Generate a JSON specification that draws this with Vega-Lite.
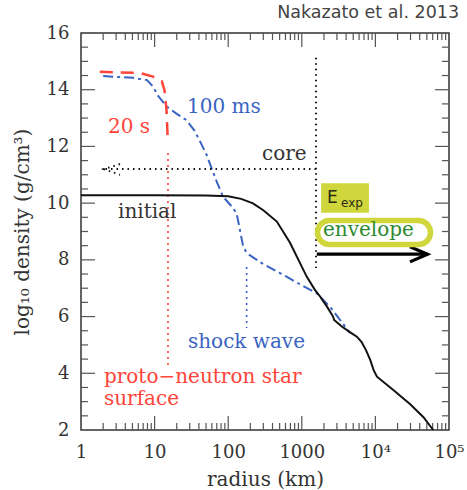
{
  "$schema": "https://vega.github.io/schema/vega-lite/v6.json",
  "width": 368,
  "height": 397,
  "autosize": {"type": "none"},
  "padding": {"left": 81, "top": 33, "right": 18, "bottom": 60},
  "title": {"text": "Nakazato et al. 2013", "anchor": "end", "font": "DejaVu Sans", "fontSize": 17.5, "fontWeight": "normal", "color": "#444", "offset": 3, "dx": -5},
  "config": {
    "view": {"stroke": "#333", "strokeWidth": 1.5},
    "axis": {"grid": false, "domain": false, "ticks": false,
      "labelFont": "DejaVu Serif", "labelFontSize": 18, "labelColor": "#333", "titleFont": "DejaVu Serif", "titleFontSize": 20,
      "titleFontWeight": "normal", "titleColor": "#333", "labelFlush": false, "labelOverlap": false}
  },
  "datasets": {
    "curves": [
      {"series": "initial", "r": 1, "rho": 10.28}, {"series": "initial", "r": 10, "rho": 10.28}, {"series": "initial", "r": 50, "rho": 10.27},
      {"series": "initial", "r": 100, "rho": 10.24}, {"series": "initial", "r": 150, "rho": 10.15}, {"series": "initial", "r": 217, "rho": 9.99},
      {"series": "initial", "r": 300, "rho": 9.75}, {"series": "initial", "r": 458, "rho": 9.35}, {"series": "initial", "r": 692, "rho": 8.6},
      {"series": "initial", "r": 900, "rho": 8.0}, {"series": "initial", "r": 1170, "rho": 7.4}, {"series": "initial", "r": 1500, "rho": 6.95},
      {"series": "initial", "r": 1780, "rho": 6.7}, {"series": "initial", "r": 2200, "rho": 6.35}, {"series": "initial", "r": 2660, "rho": 6.0},
      {"series": "initial", "r": 2750, "rho": 5.88}, {"series": "initial", "r": 3500, "rho": 5.65}, {"series": "initial", "r": 4500, "rho": 5.45},
      {"series": "initial", "r": 5600, "rho": 5.29}, {"series": "initial", "r": 6500, "rho": 5.1}, {"series": "initial", "r": 7500, "rho": 4.8},
      {"series": "initial", "r": 8500, "rho": 4.47}, {"series": "initial", "r": 9500, "rho": 4.1}, {"series": "initial", "r": 10500, "rho": 3.88},
      {"series": "initial", "r": 17500, "rho": 3.41}, {"series": "initial", "r": 30000, "rho": 2.9}, {"series": "initial", "r": 45000, "rho": 2.45},
      {"series": "initial", "r": 61000, "rho": 2.0},
      {"series": "100ms", "r": 2.0, "rho": 14.48}, {"series": "100ms", "r": 5, "rho": 14.42}, {"series": "100ms", "r": 7.9, "rho": 14.34},
      {"series": "100ms", "r": 9.6, "rho": 14.1}, {"series": "100ms", "r": 11, "rho": 13.8}, {"series": "100ms", "r": 14.7, "rho": 13.4},
      {"series": "100ms", "r": 20, "rho": 13.15}, {"series": "100ms", "r": 27, "rho": 12.93}, {"series": "100ms", "r": 35, "rho": 12.55},
      {"series": "100ms", "r": 41, "rho": 12.2}, {"series": "100ms", "r": 50, "rho": 11.75}, {"series": "100ms", "r": 70, "rho": 10.75},
      {"series": "100ms", "r": 85, "rho": 10.23}, {"series": "100ms", "r": 110, "rho": 9.9}, {"series": "100ms", "r": 130, "rho": 9.65},
      {"series": "100ms", "r": 160, "rho": 8.46}, {"series": "100ms", "r": 180, "rho": 8.23}, {"series": "100ms", "r": 300, "rho": 7.85},
      {"series": "100ms", "r": 630, "rho": 7.4}, {"series": "100ms", "r": 1000, "rho": 7.1}, {"series": "100ms", "r": 1600, "rho": 6.82},
      {"series": "100ms", "r": 2500, "rho": 6.3}, {"series": "100ms", "r": 3500, "rho": 5.8}, {"series": "100ms", "r": 4500, "rho": 5.42},
      {"series": "20s", "r": 1.8, "rho": 14.63}, {"series": "20s", "r": 6.3, "rho": 14.59}, {"series": "20s", "r": 9.5, "rho": 14.46},
      {"series": "20s", "r": 12.5, "rho": 14.3}, {"series": "20s", "r": 13.6, "rho": 14.0}, {"series": "20s", "r": 14.5, "rho": 13.3},
      {"series": "20s", "r": 15.0, "rho": 12.4}
    ],
    "segments": [
      {"group": "kdot", "seg": "coreh", "i": 0, "r": 1560, "rho": 11.2}, {"group": "kdot", "seg": "coreh", "i": 1, "r": 2.05, "rho": 11.2},
      {"group": "kdot", "seg": "corehead", "i": 0, "r": 3.39, "rho": 11.38}, {"group": "kdot", "seg": "corehead", "i": 1, "r": 2.05, "rho": 11.2},
      {"group": "kdot", "seg": "corehead", "i": 2, "r": 3.39, "rho": 11.0},
      {"group": "kdot", "seg": "corev", "i": 0, "r": 1560, "rho": 15.13}, {"group": "kdot", "seg": "corev", "i": 1, "r": 1560, "rho": 7.71},
      {"group": "karrow", "seg": "env", "i": 0, "r": 1600, "rho": 8.2}, {"group": "karrow", "seg": "env", "i": 1, "r": 51000, "rho": 8.2},
      {"group": "karrow", "seg": "envhead", "i": 0, "r": 29500, "rho": 8.46}, {"group": "karrow", "seg": "envhead", "i": 1, "r": 51000, "rho": 8.2},
      {"group": "karrow", "seg": "envhead", "i": 2, "r": 29500, "rho": 7.93},
      {"group": "rdot", "seg": "pns", "i": 0, "r": 15.2, "rho": 11.77}, {"group": "rdot", "seg": "pns", "i": 1, "r": 15.2, "rho": 4.29},
      {"group": "bdot", "seg": "shock", "i": 0, "r": 178, "rho": 7.75}, {"group": "bdot", "seg": "shock", "i": 1, "r": 178, "rho": 5.6}
    ],
    "xticks": [
      {"kind": "major", "r": 10, "bottom": 2, "top": 16}, {"kind": "major", "r": 100, "bottom": 2, "top": 16}, {"kind": "major", "r": 1000, "bottom": 2, "top": 16}, {"kind": "major", "r": 10000, "bottom": 2, "top": 16},
      {"kind": "minor", "r": 2, "bottom": 2, "top": 16}, {"kind": "minor", "r": 3, "bottom": 2, "top": 16}, {"kind": "minor", "r": 4, "bottom": 2, "top": 16}, {"kind": "minor", "r": 5, "bottom": 2, "top": 16},
      {"kind": "minor", "r": 6, "bottom": 2, "top": 16}, {"kind": "minor", "r": 7, "bottom": 2, "top": 16}, {"kind": "minor", "r": 8, "bottom": 2, "top": 16}, {"kind": "minor", "r": 9, "bottom": 2, "top": 16},
      {"kind": "minor", "r": 20, "bottom": 2, "top": 16}, {"kind": "minor", "r": 30, "bottom": 2, "top": 16}, {"kind": "minor", "r": 40, "bottom": 2, "top": 16}, {"kind": "minor", "r": 50, "bottom": 2, "top": 16},
      {"kind": "minor", "r": 60, "bottom": 2, "top": 16}, {"kind": "minor", "r": 70, "bottom": 2, "top": 16}, {"kind": "minor", "r": 80, "bottom": 2, "top": 16}, {"kind": "minor", "r": 90, "bottom": 2, "top": 16},
      {"kind": "minor", "r": 200, "bottom": 2, "top": 16}, {"kind": "minor", "r": 300, "bottom": 2, "top": 16}, {"kind": "minor", "r": 400, "bottom": 2, "top": 16}, {"kind": "minor", "r": 500, "bottom": 2, "top": 16},
      {"kind": "minor", "r": 600, "bottom": 2, "top": 16}, {"kind": "minor", "r": 700, "bottom": 2, "top": 16}, {"kind": "minor", "r": 800, "bottom": 2, "top": 16}, {"kind": "minor", "r": 900, "bottom": 2, "top": 16},
      {"kind": "minor", "r": 2000, "bottom": 2, "top": 16}, {"kind": "minor", "r": 3000, "bottom": 2, "top": 16}, {"kind": "minor", "r": 4000, "bottom": 2, "top": 16}, {"kind": "minor", "r": 5000, "bottom": 2, "top": 16},
      {"kind": "minor", "r": 6000, "bottom": 2, "top": 16}, {"kind": "minor", "r": 7000, "bottom": 2, "top": 16}, {"kind": "minor", "r": 8000, "bottom": 2, "top": 16}, {"kind": "minor", "r": 9000, "bottom": 2, "top": 16},
      {"kind": "minor", "r": 20000, "bottom": 2, "top": 16}, {"kind": "minor", "r": 30000, "bottom": 2, "top": 16}, {"kind": "minor", "r": 40000, "bottom": 2, "top": 16}, {"kind": "minor", "r": 50000, "bottom": 2, "top": 16},
      {"kind": "minor", "r": 60000, "bottom": 2, "top": 16}, {"kind": "minor", "r": 70000, "bottom": 2, "top": 16}, {"kind": "minor", "r": 80000, "bottom": 2, "top": 16}, {"kind": "minor", "r": 90000, "bottom": 2, "top": 16}
    ],
    "yticks": [
      {"kind": "major", "rho": 4, "left": 1, "right": 100000}, {"kind": "major", "rho": 6, "left": 1, "right": 100000}, {"kind": "major", "rho": 8, "left": 1, "right": 100000},
      {"kind": "major", "rho": 10, "left": 1, "right": 100000}, {"kind": "major", "rho": 12, "left": 1, "right": 100000}, {"kind": "major", "rho": 14, "left": 1, "right": 100000},
      {"kind": "minor", "rho": 2.5, "left": 1, "right": 100000}, {"kind": "minor", "rho": 3, "left": 1, "right": 100000}, {"kind": "minor", "rho": 3.5, "left": 1, "right": 100000},
      {"kind": "minor", "rho": 4.5, "left": 1, "right": 100000}, {"kind": "minor", "rho": 5, "left": 1, "right": 100000}, {"kind": "minor", "rho": 5.5, "left": 1, "right": 100000},
      {"kind": "minor", "rho": 6.5, "left": 1, "right": 100000}, {"kind": "minor", "rho": 7, "left": 1, "right": 100000}, {"kind": "minor", "rho": 7.5, "left": 1, "right": 100000},
      {"kind": "minor", "rho": 8.5, "left": 1, "right": 100000}, {"kind": "minor", "rho": 9, "left": 1, "right": 100000}, {"kind": "minor", "rho": 9.5, "left": 1, "right": 100000},
      {"kind": "minor", "rho": 10.5, "left": 1, "right": 100000}, {"kind": "minor", "rho": 11, "left": 1, "right": 100000}, {"kind": "minor", "rho": 11.5, "left": 1, "right": 100000},
      {"kind": "minor", "rho": 12.5, "left": 1, "right": 100000}, {"kind": "minor", "rho": 13, "left": 1, "right": 100000}, {"kind": "minor", "rho": 13.5, "left": 1, "right": 100000},
      {"kind": "minor", "rho": 14.5, "left": 1, "right": 100000}, {"kind": "minor", "rho": 15, "left": 1, "right": 100000}, {"kind": "minor", "rho": 15.5, "left": 1, "right": 100000}
    ],
    "labels": [
      {"label": "100 ms", "kind": "blue", "r": 27.5, "rho": 13.18},
      {"label": "20 s", "kind": "red", "r": 2.33, "rho": 12.47},
      {"label": "core", "kind": "black", "r": 288, "rho": 11.52},
      {"label": "initial", "kind": "black", "r": 3.18, "rho": 9.47},
      {"label": "shock wave", "kind": "blue", "r": 28.4, "rho": 4.89},
      {"label": "proto−neutron star", "kind": "red", "r": 2.05, "rho": 3.66},
      {"label": "surface", "kind": "red", "r": 2.05, "rho": 2.88},
      {"label": "envelope", "kind": "green", "r": 1940, "rho": 8.84}
    ],
    "boxes": [
      {"box": "eexp", "r": 1830, "r2": 8180, "rho": 10.7, "rho2": 9.66},
      {"box": "envelope", "r": 1634, "r2": 56100, "rho": 9.39, "rho2": 8.54}
    ],
    "eexp": [
      {"main": "E", "sub": "exp", "r": 2200, "rho": 10.0, "rsub": 3410, "rhosub": 9.86}
    ]
  },
  "resolve": {"axis": {"x": "independent", "y": "independent"}},
  "layer": [
    {
      "data": {"name": "xticks"},
      "transform": [{"filter": "datum.kind == 'major'"}],
      "mark": {"type": "rule", "color": "#555", "strokeWidth": 1.2, "y2Offset": -14},
      "encoding": {"x": {"field": "r", "type": "quantitative", "scale": {"type": "log", "domain": [1, 100000], "nice": false}, "axis": null},
        "y": {"field": "bottom", "type": "quantitative", "scale": {"domain": [2, 16], "nice": false, "zero": false}, "axis": null}, "y2": {"field": "bottom"}}
    },
    {
      "data": {"name": "xticks"},
      "transform": [{"filter": "datum.kind == 'major'"}],
      "mark": {"type": "rule", "color": "#555", "strokeWidth": 1.2, "y2Offset": 14},
      "encoding": {"x": {"field": "r", "type": "quantitative", "axis": null}, "y": {"field": "top", "type": "quantitative", "axis": null}, "y2": {"field": "top"}}
    },
    {
      "data": {"name": "xticks"},
      "transform": [{"filter": "datum.kind == 'minor'"}],
      "mark": {"type": "rule", "color": "#555", "strokeWidth": 1.2, "y2Offset": -7},
      "encoding": {"x": {"field": "r", "type": "quantitative", "axis": null}, "y": {"field": "bottom", "type": "quantitative", "axis": null}, "y2": {"field": "bottom"}}
    },
    {
      "data": {"name": "xticks"},
      "transform": [{"filter": "datum.kind == 'minor'"}],
      "mark": {"type": "rule", "color": "#555", "strokeWidth": 1.2, "y2Offset": 7},
      "encoding": {"x": {"field": "r", "type": "quantitative", "axis": null}, "y": {"field": "top", "type": "quantitative", "axis": null}, "y2": {"field": "top"}}
    },
    {
      "data": {"name": "yticks"},
      "transform": [{"filter": "datum.kind == 'major'"}],
      "mark": {"type": "rule", "color": "#555", "strokeWidth": 1.2, "x2Offset": 14},
      "encoding": {"y": {"field": "rho", "type": "quantitative", "axis": null}, "x": {"field": "left", "type": "quantitative", "axis": null}, "x2": {"field": "left"}}
    },
    {
      "data": {"name": "yticks"},
      "transform": [{"filter": "datum.kind == 'major'"}],
      "mark": {"type": "rule", "color": "#555", "strokeWidth": 1.2, "x2Offset": -14},
      "encoding": {"y": {"field": "rho", "type": "quantitative", "axis": null}, "x": {"field": "right", "type": "quantitative", "axis": null}, "x2": {"field": "right"}}
    },
    {
      "data": {"name": "yticks"},
      "transform": [{"filter": "datum.kind == 'minor'"}],
      "mark": {"type": "rule", "color": "#555", "strokeWidth": 1.2, "x2Offset": 7},
      "encoding": {"y": {"field": "rho", "type": "quantitative", "axis": null}, "x": {"field": "left", "type": "quantitative", "axis": null}, "x2": {"field": "left"}}
    },
    {
      "data": {"name": "yticks"},
      "transform": [{"filter": "datum.kind == 'minor'"}],
      "mark": {"type": "rule", "color": "#555", "strokeWidth": 1.2, "x2Offset": -7},
      "encoding": {"y": {"field": "rho", "type": "quantitative", "axis": null}, "x": {"field": "right", "type": "quantitative", "axis": null}, "x2": {"field": "right"}}
    },
    {
      "data": {"name": "curves"},
      "transform": [{"filter": "datum.series == '100ms'"}],
      "mark": {"type": "line", "color": "#3a64c2", "strokeWidth": 2, "strokeDash": [10, 4, 3, 4]},
      "encoding": {
        "x": {"field": "r", "type": "quantitative", "axis": null},
        "y": {"field": "rho", "type": "quantitative", "axis": null},
        "order": {"field": "r"}
      }
    },
    {
      "data": {"name": "curves"},
      "transform": [{"filter": "datum.series == '20s'"}],
      "mark": {"type": "line", "color": "#ff4438", "strokeWidth": 2.5, "strokeDash": [13, 8]},
      "encoding": {
        "x": {"field": "r", "type": "quantitative", "axis": null},
        "y": {"field": "rho", "type": "quantitative", "axis": null},
        "order": {"field": "r"}
      }
    },
    {
      "data": {"name": "segments"},
      "transform": [{"filter": "datum.group == 'kdot'"}],
      "mark": {"type": "line", "color": "#111", "strokeWidth": 2, "strokeDash": [1.5, 4]},
      "encoding": {
        "x": {"field": "r", "type": "quantitative", "axis": null},
        "y": {"field": "rho", "type": "quantitative", "axis": null},
        "detail": {"field": "seg"},
        "order": {"field": "i"}
      }
    },
    {
      "data": {"name": "segments"},
      "transform": [{"filter": "datum.group == 'karrow'"}],
      "mark": {"type": "line", "color": "#000", "strokeWidth": 3.2},
      "encoding": {
        "x": {"field": "r", "type": "quantitative", "axis": null},
        "y": {"field": "rho", "type": "quantitative", "axis": null},
        "detail": {"field": "seg"},
        "order": {"field": "i"}
      }
    },
    {
      "data": {"name": "segments"},
      "transform": [{"filter": "datum.group == 'rdot'"}],
      "mark": {"type": "line", "color": "#ff4438", "strokeWidth": 1.6, "strokeDash": [2, 4]},
      "encoding": {
        "x": {"field": "r", "type": "quantitative", "axis": null},
        "y": {"field": "rho", "type": "quantitative", "axis": null},
        "detail": {"field": "seg"},
        "order": {"field": "i"}
      }
    },
    {
      "data": {"name": "segments"},
      "transform": [{"filter": "datum.group == 'bdot'"}],
      "mark": {"type": "line", "color": "#3a64c2", "strokeWidth": 1.6, "strokeDash": [2, 4]},
      "encoding": {
        "x": {"field": "r", "type": "quantitative", "axis": null},
        "y": {"field": "rho", "type": "quantitative", "axis": null},
        "detail": {"field": "seg"},
        "order": {"field": "i"}
      }
    },
    {
      "data": {"name": "boxes"},
      "transform": [{"filter": "datum.box == 'eexp'"}],
      "mark": {"type": "rect", "fill": "#cfd73c"},
      "encoding": {
        "x": {"field": "r", "type": "quantitative", "axis": null},
        "x2": {"field": "r2"},
        "y": {"field": "rho", "type": "quantitative", "axis": null},
        "y2": {"field": "rho2"}
      }
    },
    {
      "data": {"name": "boxes"},
      "transform": [{"filter": "datum.box == 'envelope'"}],
      "mark": {"type": "rect", "fill": "#ffffff", "stroke": "#cfd73c", "strokeWidth": 5.5, "cornerRadius": 12},
      "encoding": {
        "x": {"field": "r", "type": "quantitative", "axis": null},
        "x2": {"field": "r2"},
        "y": {"field": "rho", "type": "quantitative", "axis": null},
        "y2": {"field": "rho2"}
      }
    },
    {
      "data": {"name": "labels"},
      "mark": {"type": "text", "font": "DejaVu Serif", "fontSize": 20, "align": "left", "baseline": "alphabetic"},
      "encoding": {
        "x": {"field": "r", "type": "quantitative", "axis": null},
        "y": {"field": "rho", "type": "quantitative", "axis": null},
        "text": {"field": "label"},
        "color": {"field": "kind", "type": "nominal", "legend": null,
          "scale": {"domain": ["black", "blue", "red", "green"], "range": ["#333333", "#3a64c2", "#ff4438", "#2e8a2e"]}}
      }
    },
    {
      "data": {"name": "eexp"},
      "mark": {"type": "text", "font": "DejaVu Sans", "fontSize": 17, "align": "left", "baseline": "alphabetic", "color": "#2a2a10"},
      "encoding": {
        "x": {"field": "r", "type": "quantitative", "axis": null},
        "y": {"field": "rho", "type": "quantitative", "axis": null},
        "text": {"field": "main"}
      }
    },
    {
      "data": {"name": "eexp"},
      "mark": {"type": "text", "font": "DejaVu Sans", "fontSize": 12, "align": "left", "baseline": "alphabetic", "color": "#2a2a10"},
      "encoding": {
        "x": {"field": "rsub", "type": "quantitative", "axis": null},
        "y": {"field": "rhosub", "type": "quantitative", "axis": null},
        "text": {"field": "sub"}
      }
    },
    {
      "data": {"name": "curves"},
      "transform": [{"filter": "datum.series == 'initial'"}],
      "mark": {"type": "line", "color": "#111", "strokeWidth": 2},
      "encoding": {
        "x": {"field": "r", "type": "quantitative", "scale": {"type": "log", "domain": [1, 100000], "nice": false},
          "axis": {"orient": "bottom", "title": "radius (km)", "labelPadding": 13, "titlePadding": 8,
            "values": [1, 10, 100, 1000, 10000, 100000],
            "labelExpr": "datum.value == 10000 ? '10⁴' : datum.value == 100000 ? '10⁵' : format(datum.value, 'd')"}},
        "y": {"field": "rho", "type": "quantitative", "scale": {"domain": [2, 16], "nice": false, "zero": false},
          "axis": {"orient": "left", "title": "log₁₀ density (g/cm³)", "labelPadding": 12, "titlePadding": 14,
            "values": [2, 4, 6, 8, 10, 12, 14, 16]}},
        "order": {"field": "r"}
      }
    }
  ]
}
